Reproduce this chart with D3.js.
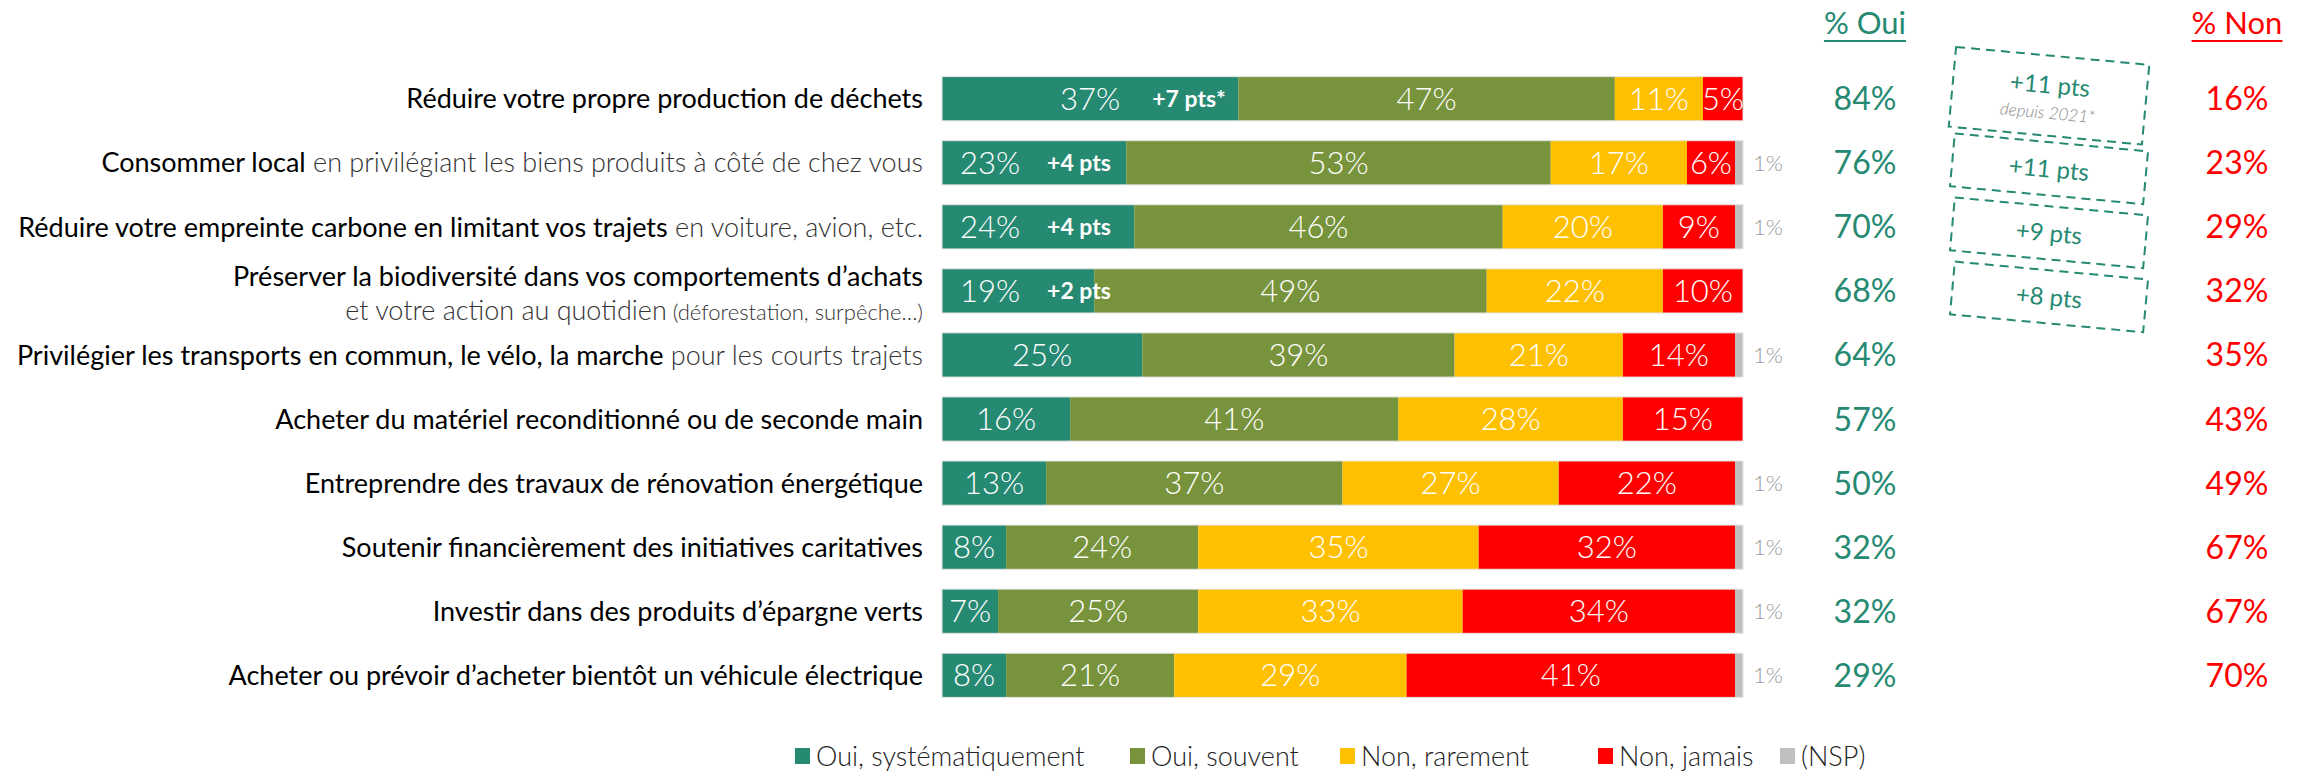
<!DOCTYPE html>
<html>
<head>
<meta charset="utf-8">
<script src="https://cdn.jsdelivr.net/npm/d3@7/dist/d3.min.js"></script>
<style>
  body { margin: 0; background: #fff; }
  text { font-family: Lato, "Open Sans", sans-serif; }
</style>
</head>
<body>
<div id="chart"></div>
<script>
// row labels (main part in regular weight, suffix in light)
var labelMain = [
  "Réduire votre propre production de déchets",
  "Consommer local",
  "Réduire votre empreinte carbone en limitant vos trajets",
  "Préserver la biodiversité dans vos comportements d’achats",
  "Privilégier les transports en commun, le vélo, la marche",
  "Acheter du matériel reconditionné ou de seconde main",
  "Entreprendre des travaux de rénovation énergétique",
  "Soutenir financièrement des initiatives caritatives",
  "Investir dans des produits d’épargne verts",
  "Acheter ou prévoir d’acheter bientôt un véhicule électrique"
];
var labelSuffix = ["", " en privilégiant les biens produits à côté de chez vous", " en voiture, avion, etc.", "", " pour les courts trajets", "", "", "", "", ""];
var labelLine2 = ["", "", "", "et votre action au quotidien", "", "", "", "", "", ""];
var labelLine2Small = ["", "", "", " (déforestation, surpêche…)", "", "", "", "", "", ""];

var series = ["Oui, systématiquement", "Oui, souvent", "Non, rarement", "Non, jamais", "(NSP)"];
var colors = ["#268972", "#77933c", "#ffc000", "#ff0000", "#bfbfbf"];

var ouiSystematiquement = [37, 23, 24, 19, 25, 16, 13, 8, 7, 8];
var ouiSouvent          = [47, 53, 46, 49, 39, 41, 37, 24, 25, 21];
var nonRarement         = [11, 17, 20, 22, 21, 28, 27, 35, 33, 29];
var nonJamais           = [5, 6, 9, 10, 14, 15, 22, 32, 34, 41];
var nsp                 = [0, 1, 1, 0, 1, 0, 1, 1, 1, 1];

var totalOui = [84, 76, 70, 68, 64, 57, 50, 32, 32, 29];
var totalNon = [16, 23, 29, 32, 35, 43, 49, 67, 67, 70];

// evolution of "systématiquement" shown inside the bar
var evolSyst = ["+7 pts*", "+4 pts", "+4 pts", "+2 pts", "", "", "", "", "", ""];
// evolution of total oui, shown in dashed boxes
var evolOui = ["+11 pts", "+11 pts", "+9 pts", "+8 pts"];
var evolNote = "depuis 2021*";

var width = 2297, height = 772;
var teal = colors[0], red = colors[3];

var svg = d3.select('#chart')
  .append('svg')
  .attr('width', width)
  .attr('height', height);

var x = d3.scaleLinear()
  .domain([0, 100])
  .range([942, 1743]);

var y = d3.scaleBand()
  .domain(d3.range(labelMain.length))
  .range([67, 707])
  .paddingInner(0.31)
  .paddingOuter(0.15);

var rows = labelMain.map(function(d, i) {
  return { i: i, s0: ouiSystematiquement[i], s1: ouiSouvent[i], s2: nonRarement[i], s3: nonJamais[i], s4: nsp[i] };
});
var keys = ['s0', 's1', 's2', 's3', 's4'];
var stacked = d3.stack().keys(keys)(rows);

var layers = svg.selectAll('.layer')
  .data(stacked)
  .enter().append('g')
  .attr('class', 'layer')
  .attr('fill', function(d, k) { return colors[k]; });

layers.selectAll('rect')
  .data(function(d) { return d; })
  .enter().append('rect')
  .attr('x', function(d) { return x(d[0]); })
  .attr('y', function(d) { return y(d.data.i); })
  .attr('width', function(d) { return x(d[1]) - x(d[0]); })
  .attr('height', y.bandwidth());

// thin light outline on each bar
svg.selectAll('.bar-outline')
  .data(rows)
  .enter().append('rect')
  .attr('class', 'bar-outline')
  .attr('x', x(0))
  .attr('y', function(d) { return y(d.i); })
  .attr('width', x(100) - x(0))
  .attr('height', y.bandwidth())
  .attr('fill', 'none')
  .attr('stroke', '#e4e4e4')
  .attr('stroke-width', 1);

// segment labels (not the NSP one)
var segLabels = [];
stacked.slice(0, 4).forEach(function(layer, k) {
  layer.forEach(function(d) {
    segLabels.push({ k: k, i: d.data.i, x0: d[0], x1: d[1], v: d[1] - d[0] });
  });
});

svg.selectAll('.seg-label')
  .data(segLabels)
  .enter().append('text')
  .attr('class', 'seg-label')
  .attr('x', function(d) {
    if (d.k == 0 && evolSyst[d.i] && d.v < 30) return x(d.x0) + 48;
    return (x(d.x0) + x(d.x1)) / 2;
  })
  .attr('y', function(d) { return y(d.i) + y.bandwidth() / 2; })
  .attr('dy', '0.36em')
  .attr('text-anchor', 'middle')
  .attr('fill', '#fff')
  .attr('font-weight', 300)
  .attr('font-size', 31)
  .text(function(d) { return d.v + '%'; })
  .each(function(d) {
    if (d.k == 0 && evolSyst[d.i]) {
      var b = this.getBBox();
      svg.append('text')
        .attr('x', b.x + b.width + (d.v < 30 ? 27 : 32))
        .attr('y', y(d.i) + y.bandwidth() / 2)
        .attr('dy', '0.36em')
        .attr('fill', '#fff')
        .attr('font-weight', 700)
        .attr('font-size', 23)
        .text(evolSyst[d.i]);
    }
  });

// NSP labels outside the bar
svg.selectAll('.nsp-label')
  .data(rows.filter(function(d) { return d.s4 > 0; }))
  .enter().append('text')
  .attr('class', 'nsp-label')
  .attr('x', x(100) + 10)
  .attr('y', function(d) { return y(d.i) + y.bandwidth() / 2; })
  .attr('dy', '0.36em')
  .attr('fill', '#999')
  .attr('font-weight', 300)
  .attr('font-size', 22)
  .text(function(d) { return d.s4 + '%'; });

// row labels
var labelX = 923, labelSize = 27;
rows.forEach(function(d) {
  var cy = y(d.i) + y.bandwidth() / 2;
  var twoLines = labelLine2[d.i] != '';
  var t = svg.append('text')
    .attr('x', labelX)
    .attr('y', twoLines ? cy - 15 : cy)
    .attr('dy', '0.36em')
    .attr('text-anchor', 'end')
    .attr('font-size', labelSize);
  t.append('tspan').attr('fill', '#000').text(labelMain[d.i]);
  if (labelSuffix[d.i]) {
    t.append('tspan').attr('fill', '#333').attr('font-weight', 300).text(labelSuffix[d.i]);
  }
  if (twoLines) {
    var t2 = svg.append('text')
      .attr('x', labelX)
      .attr('y', cy + 19)
      .attr('dy', '0.36em')
      .attr('text-anchor', 'end')
      .attr('font-size', labelSize)
      .attr('font-weight', 300)
      .attr('fill', '#333');
    t2.append('tspan').text(labelLine2[d.i]);
    t2.append('tspan').attr('font-size', 22).text(labelLine2Small[d.i]);
  }
});

// column headers
var ouiX = 1865, nonX = 2237;
[{ t: '% Oui', x: ouiX, c: teal }, { t: '% Non', x: nonX, c: red }].forEach(function(h) {
  var txt = svg.append('text')
    .attr('x', h.x)
    .attr('y', 34)
    .attr('text-anchor', 'middle')
    .attr('fill', h.c)
    .attr('font-size', 31)
    .text(h.t);
  var b = txt.node().getBBox();
  svg.append('line')
    .attr('x1', b.x).attr('x2', b.x + b.width)
    .attr('y1', 41).attr('y2', 41)
    .attr('stroke', h.c).attr('stroke-width', 2);
});

// totals
svg.selectAll('.tot-oui')
  .data(totalOui)
  .enter().append('text')
  .attr('class', 'tot-oui')
  .attr('x', ouiX)
  .attr('y', function(d, i) { return y(i) + y.bandwidth() / 2; })
  .attr('dy', '0.36em')
  .attr('text-anchor', 'middle')
  .attr('fill', teal)
  .attr('font-size', 32)
  .text(function(d) { return d + '%'; });

svg.selectAll('.tot-non')
  .data(totalNon)
  .enter().append('text')
  .attr('class', 'tot-non')
  .attr('x', nonX)
  .attr('y', function(d, i) { return y(i) + y.bandwidth() / 2; })
  .attr('dy', '0.36em')
  .attr('text-anchor', 'middle')
  .attr('fill', red)
  .attr('font-size', 32)
  .text(function(d) { return d + '%'; });

// evolution boxes (slightly tilted, dashed)
var boxX = 2049, boxW = 194;
evolOui.forEach(function(v, i) {
  var first = i == 0;
  var cy = y(i) + y.bandwidth() / 2 + (first ? -3 : 6);
  var bh = first ? 80 : 53;
  var g = svg.append('g')
    .attr('transform', 'rotate(5.3,' + boxX + ',' + cy + ')');
  g.append('rect')
    .attr('x', boxX - boxW / 2)
    .attr('y', cy - bh / 2)
    .attr('width', boxW)
    .attr('height', bh)
    .attr('fill', 'none')
    .attr('stroke', teal)
    .attr('stroke-width', 2)
    .attr('stroke-dasharray', '9,6');
  g.append('text')
    .attr('x', boxX)
    .attr('y', first ? cy - 11 : cy)
    .attr('dy', '0.36em')
    .attr('text-anchor', 'middle')
    .attr('fill', teal)
    .attr('font-size', 24)
    .text(v);
  if (first) {
    g.append('text')
      .attr('x', boxX)
      .attr('y', cy + 17)
      .attr('dy', '0.36em')
      .attr('text-anchor', 'middle')
      .attr('fill', '#888')
      .attr('font-style', 'italic')
      .attr('font-weight', 300)
      .attr('font-size', 17)
      .text(evolNote);
  }
});

// legend
var legendX = [795, 1130, 1340, 1598, 1780];
var legend = svg.selectAll('.legend')
  .data(series)
  .enter().append('g')
  .attr('class', 'legend')
  .attr('transform', function(d, i) { return 'translate(' + legendX[i] + ',756)'; });

legend.append('rect')
  .attr('x', 0)
  .attr('y', -8)
  .attr('width', 15)
  .attr('height', 16)
  .attr('fill', function(d, i) { return colors[i]; });

legend.append('text')
  .attr('x', 21)
  .attr('y', 0)
  .attr('dy', '0.36em')
  .attr('fill', '#222')
  .attr('font-weight', 300)
  .attr('font-size', 27)
  .text(function(d) { return d; });
</script>
</body>
</html>
